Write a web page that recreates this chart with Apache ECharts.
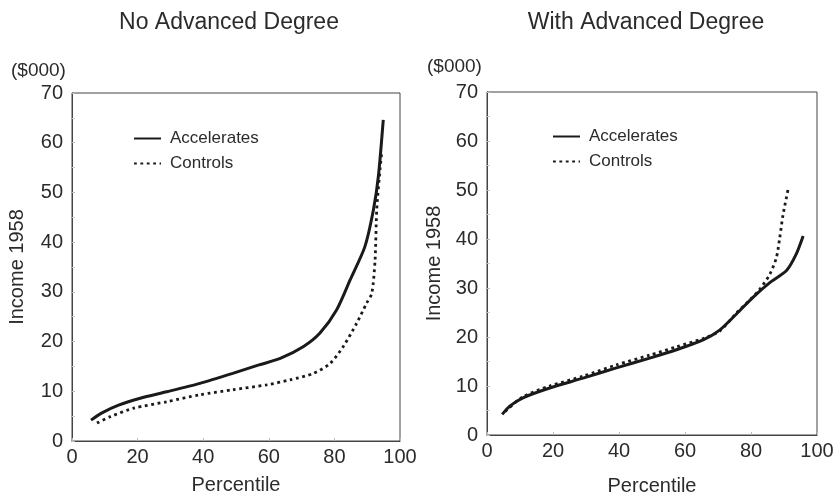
<!DOCTYPE html>
<html style="height: 100%">
<head>
<meta charset="utf-8">
</head>
<body style="height: 100%; margin: 0; background: #fff">
<div id="container" style="width: 838px; height: 501px"></div>
<script src="https://cdn.jsdelivr.net/npm/echarts@6/dist/echarts.min.js"></script>
<script>
// No Advanced Degree panel: [percentile, income $000]
var noDegAccel = [[5.8,4.2],[9,5.6],[14.2,7.2],[20.8,8.6],[28.9,9.9],[39,11.6],[49,13.6],[57,15.3],[63.5,16.6],[70.6,19],[75.6,21.7],[80.7,26.4],[84.8,32.4],[89.3,39.1],[91.9,46.5],[93.4,53.2],[94.9,64.6]];
var noDegCtrl = [[7.6,3.6],[11.7,4.9],[18.8,6.6],[28.9,7.9],[39,9.3],[49,10.3],[59.4,11.3],[66.5,12.3],[73.6,13.6],[78.7,15.6],[82.7,19],[86.8,23.7],[89.8,27.7],[91.4,29.7],[92.4,36.4],[92.9,46.5],[93.9,54.6],[94.4,57.9]];
// With Advanced Degree panel
var advAccel = [[4.6,4.2],[6.9,5.9],[10.9,7.6],[19,9.6],[29.1,11.6],[39.2,13.7],[49.3,15.7],[57.4,17.4],[65.5,19.4],[70.5,21.4],[75.6,24.7],[80.6,28.1],[85.7,31.1],[90.7,33.5],[93.7,36.9],[95.8,40.6]];
var advCtrl = [[5.5,4.8],[10.9,7.8],[19,10],[29.1,12],[39.2,14.3],[49.3,16.3],[57.4,18],[65.5,19.7],[70.5,21.2],[75.6,24.9],[80,27.8],[82.5,29.6],[85.7,32.8],[87.7,36.2],[88.7,40.2],[89.7,44.9],[91.2,50]];

var panelTitles = ['No Advanced Degree', 'With Advanced Degree'];
var seriesNames = ['Accelerates', 'Controls'];

var font = 'Liberation Sans, Arial, sans-serif';
var ink = '#2b2b2b';

var dom = document.getElementById('container');
var myChart = echarts.init(dom, null, {renderer: 'canvas'});

function xAxis(idx, gap) {
    return {
        gridIndex: idx, type: 'value', min: 0, max: 100, interval: 20,
        name: 'Percentile', nameLocation: 'middle', nameGap: gap,
        nameTextStyle: {fontFamily: font, fontSize: 20, color: ink},
        axisLine: {lineStyle: {color: '#444', width: 1}},
        axisTick: {show: true, inside: true, length: 3, lineStyle: {color: '#bbb'}},
        axisLabel: {fontFamily: font, fontSize: 20, color: ink, margin: 6},
        splitLine: {show: false}
    };
}
function yAxis(idx, gap) {
    return {
        gridIndex: idx, type: 'value', min: 0, max: 70, interval: 10,
        name: 'Income 1958', nameLocation: 'middle', nameGap: gap,
        nameTextStyle: {fontFamily: font, fontSize: 20, color: ink},
        axisLine: {lineStyle: {color: '#444', width: 1}},
        axisTick: {show: true, inside: true, length: 3, lineStyle: {color: '#bbb'}},
        minorTick: {show: true, splitNumber: 2, length: 3, lineStyle: {color: '#ccc'}},
        axisLabel: {fontFamily: font, fontSize: 20, color: ink, margin: 9},
        splitLine: {show: false}
    };
}
function line(name, idx, data, dotted) {
    return {
        name: name, type: 'line', xAxisIndex: idx, yAxisIndex: idx,
        data: data, symbol: 'none', smooth: 0.25,
        lineStyle: dotted
            ? {color: '#1a1a1a', width: 2.8, type: [2.8, 3.6]}
            : {color: '#1a1a1a', width: 3},
        itemStyle: {color: '#1a1a1a'}
    };
}
function legend(left, top) {
    return {
        orient: 'vertical', left: left, top: top, itemWidth: 27, itemHeight: 14, itemGap: 8,
        data: seriesNames, selectedMode: false,
        itemStyle: {opacity: 0},
        textStyle: {fontFamily: font, fontSize: 17, color: ink, padding: [0, 0, 0, 4]}
    };
}

var option = {
    backgroundColor: '#fff',
    animation: false,
    title: [
        {text: panelTitles[0], left: 224, top: 6, textAlign: 'center',
         textStyle: {fontFamily: font, fontSize: 23, fontWeight: 'normal', color: ink}},
        {text: panelTitles[1], left: 641, top: 6, textAlign: 'center',
         textStyle: {fontFamily: font, fontSize: 23, fontWeight: 'normal', color: ink}},
        {text: '($000)', left: 6, top: 56,
         textStyle: {fontFamily: font, fontSize: 19, fontWeight: 'normal', color: ink}},
        {text: '($000)', left: 422, top: 52,
         textStyle: {fontFamily: font, fontSize: 19, fontWeight: 'normal', color: ink}}
    ],
    legend: [legend(128, 125), legend(547, 123)],
    grid: [
        {left: 72, top: 93, width: 328, height: 348, show: true, borderColor: '#444', borderWidth: 1},
        {left: 487, top: 92, width: 330, height: 347, show: true, borderColor: '#444', borderWidth: 1}
    ],
    xAxis: [xAxis(0, 34), xAxis(1, 41)],
    yAxis: [yAxis(0, 45), yAxis(1, 43)],
    series: [
        line(seriesNames[0], 0, noDegAccel, false),
        line(seriesNames[1], 0, noDegCtrl, true),
        line(seriesNames[0], 1, advAccel, false),
        line(seriesNames[1], 1, advCtrl, true)
    ]
};

myChart.setOption(option, true);
</script>
</body>
</html>
